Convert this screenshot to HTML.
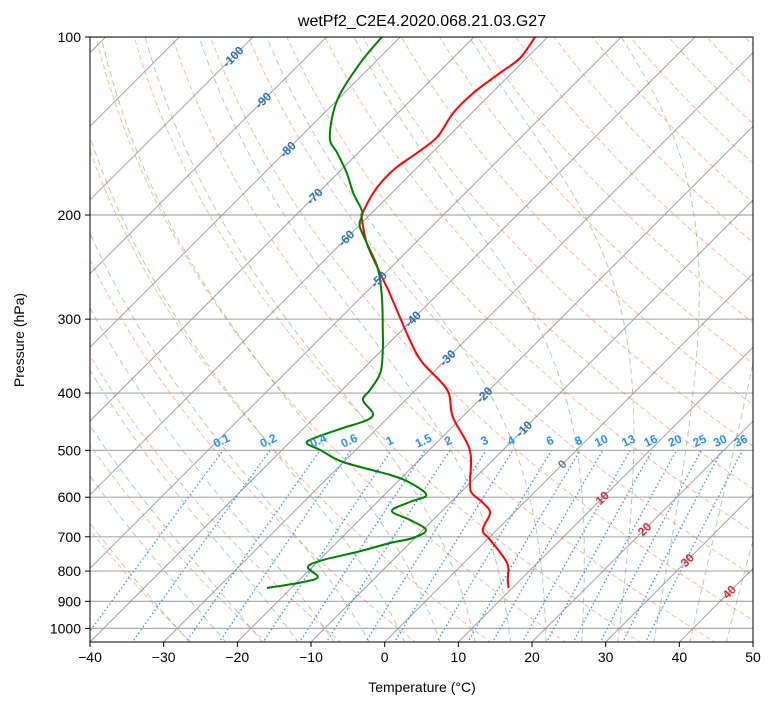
<!DOCTYPE html>
<html><head><meta charset="utf-8"><style>
html,body{margin:0;padding:0;background:#fff;}
svg{display:block;font-family:"Liberation Sans",sans-serif;}
</style></head><body>
<svg id="chart" width="775" height="708" viewBox="0 0 775 708">
<defs><clipPath id="clip"><rect x="90" y="37" width="663" height="605"/></clipPath></defs>
<rect x="0" y="0" width="775" height="708" fill="#fff"/>
<text x="422" y="26" font-size="16" text-anchor="middle">wetPf2_C2E4.2020.068.21.03.G27</text>
<g id="grid" clip-path="url(#clip)"></g>
<g id="labels"></g>
<rect x="90" y="37" width="663" height="605" fill="none" stroke="#000" stroke-width="1"/>
<g id="axes"></g>
<text x="422" y="692" font-size="14" text-anchor="middle">Temperature (°C)</text>
<text x="24" y="340" font-size="14" text-anchor="middle" transform="rotate(-90 24 340)">Pressure (hPa)</text>
</svg>
<script>
const tempP = [100,108.5,115.1,124.4,134.5,147.6,157.1,165.9,174.5,183.6,197.7,201.6,223.0,245.9,271.0,325.2,355.8,395.3,439.1,499.3,567.6,590.2,613.8,638.1,681.7,708.8,775.3,828.4,854.6];
const tempT = [-61.7,-60.9,-61.6,-62.5,-62.5,-61.4,-62,-62.8,-62.9,-62.5,-61.3,-60.8,-56.6,-51.7,-46.7,-37.6,-32.7,-25.7,-21.3,-14.5,-10.0,-8.4,-5.5,-3.2,-1.9,0.5,5.9,8.3,9.5];
const dewP = [100,110.7,127.8,147.6,157.1,169.8,183.6,197.7,208.0,223.0,245.9,275.2,313.0,338.2,370.0,395.3,411.0,432.3,444.3,458.3,474.7,485.9,499.3,523.1,550.3,567.6,595.0,611.4,633.1,655.7,681.7,703.3,717.2,742.8,766.3,787.5,818.7,834.8,854.6];
const dewT = [-82.5,-81.9,-80.0,-76.0,-72.8,-68.8,-65.2,-61.4,-60.0,-56.6,-51.7,-47.2,-42.6,-39.9,-37.1,-36.2,-35.8,-32.7,-32.5,-34.7,-37.0,-37.6,-34.8,-30.1,-21.9,-18.1,-14.3,-15.6,-16.8,-13.1,-9.6,-10.3,-12.7,-16.0,-19.5,-20.6,-17.9,-19.2,-23.3];
const xTicks = [-40,-30,-20,-10,0,10,20,30,40,50];
const pTicks = [100,200,300,400,500,600,700,800,900,1000];
const mixRatios = [0.1,0.2,0.4,0.6,1,1.5,2,3,4,6,8,10,13,16,20,25,30,36];
const dryT0 = [-30,-20,-10,0,10,20,30,40,50,60,70,80,90,100,110,120,130,140,150,160,170,180,190];
const moistT0 = [-30,-25,-20,-15,-10,-5,0,5,10,15,20,25,30,35,40,45];
const isoT = [-200,-190,-180,-170,-160,-150,-140,-130,-120,-110,-100,-90,-80,-70,-60,-50,-40,-30,-20,-10,0,10,20,30,40,50];
const isoLabels = [-100,-90,-80,-70,-60,-50,-40,-30,-20,-10,0,10,20,30,40];
const isoLabelP = [108,128,155,186,219,257,300,349,403,460,528,602,680,767,868];

const NS="http://www.w3.org/2000/svg";
const X0=90,Y0=37,YB=642,PX=7.367,DEC=591.4;
function yOf(p){return Y0+(Math.log10(p)-2)*DEC;}
function xOf(T,p){return X0+(T+40)*PX+(YB-yOf(p));}
function mk(tag,attrs,parent){const e=document.createElementNS(NS,tag);for(const k in attrs)e.setAttribute(k,attrs[k]);parent.appendChild(e);return e;}
const grid=document.getElementById('grid'),labels=document.getElementById('labels'),axes=document.getElementById('axes');
function pathFrom(ps,ts){return ps.map((p,i)=>(i?'L':'M')+xOf(ts[i],p).toFixed(1)+' '+yOf(p).toFixed(1)).join(' ');}
function smoothPath(ps,ts){const pts=ps.map((p,i)=>[xOf(ts[i],p),yOf(p)]);let d='M'+pts[0][0].toFixed(1)+' '+pts[0][1].toFixed(1);
 for(let i=0;i<pts.length-1;i++){const p0=pts[Math.max(0,i-1)],p1=pts[i],p2=pts[i+1],p3=pts[Math.min(pts.length-1,i+2)];
  const c1=[p1[0]+(p2[0]-p0[0])/6,p1[1]+(p2[1]-p0[1])/6],c2=[p2[0]-(p3[0]-p1[0])/6,p2[1]-(p3[1]-p1[1])/6];
  d+=' C'+c1[0].toFixed(1)+' '+c1[1].toFixed(1)+' '+c2[0].toFixed(1)+' '+c2[1].toFixed(1)+' '+p2[0].toFixed(1)+' '+p2[1].toFixed(1);}
 return d;}
const plev=[];for(let p=1060;p>=95;p-=5)plev.push(p);

dryT0.forEach(t0=>{const ts=plev.map(p=>(t0+273.15)*Math.pow(p/1000,0.2857)-273.15);
 const e=mk('path',{d:pathFrom(plev,ts),fill:'none',stroke:'rgba(250,120,90,0.55)','stroke-width':1,'stroke-dasharray':'5,3'},grid);
 });
function esat(T){return 6.112*Math.exp(17.67*T/(T+243.5));}
function moistLapse(T,p){const Tk=T+273.15,es=esat(T),rs=0.622*es/(p-es);const Rd=287.04,Cp=1005.7,L=2.501e6,eps=0.622;
 const num=(Rd*Tk+L*rs)/p;const den=Cp+(L*L*rs*eps)/(Rd*Tk*Tk);return num/den;}
moistT0.forEach(t0=>{const ps=[],ts=[];
 let T=t0;const up=[];for(let q=1000;q>=95;q-=5){up.push([q,T]);T-=moistLapse(T,q)*5;}
 T=t0;const dn=[];for(let q=1000;q<=1060;q+=5){dn.push([q,T]);T+=moistLapse(T,q)*5;}
 dn.reverse().concat(up.slice(1)).forEach(a=>{ps.push(a[0]);ts.push(a[1]);});
 const e=mk('path',{d:pathFrom(ps,ts),fill:'none',stroke:'rgba(60,160,60,0.45)','stroke-width':1,'stroke-dasharray':'6,4'},grid);
 });
isoT.forEach(t=>{const e=mk('line',{x1:xOf(t,1060),y1:yOf(1060),x2:xOf(t,95),y2:yOf(95),stroke:'rgba(120,120,120,0.7)','stroke-width':1},grid);
 });
pTicks.forEach(p=>{const e=mk('line',{x1:X0,y1:yOf(p),x2:753,y2:yOf(p),stroke:'rgba(150,150,150,0.8)','stroke-width':1.2},grid);
 });
function tdOf(w,p){const e=w/1000*p/(0.622+w/1000);const l=Math.log(e/6.112);return 243.5*l/(17.67-l);}
mixRatios.forEach(w=>{const ps=[],ts=[];for(let p=1060;p>=500;p-=10){ps.push(p);ts.push(tdOf(w,p));}
 const e=mk('path',{d:pathFrom(ps,ts),fill:'none',stroke:'#3b8df0','stroke-width':1.3,'stroke-dasharray':'1.5,2.5'},grid);
 
 const lx=xOf(tdOf(w,500),500),ly=yOf(500)-6;
 const t=mk('text',{x:lx,y:ly,'font-size':12,'font-weight':'bold',fill:'#2b8ff0','text-anchor':'middle',transform:`rotate(-25 ${lx} ${ly})`},labels);
 t.textContent=String(w);});
isoLabels.forEach((t,i)=>{const p=isoLabelP[i];const lx=xOf(t,p),ly=yOf(p)+4;
 const col=t<0?'#2a6fb0':(t===0?'#777':'#d03030');
 const e=mk('text',{x:lx,y:ly,'font-size':12,'font-weight':'bold',fill:col,'text-anchor':'middle',transform:`rotate(-45 ${lx} ${ly-4})`},labels);
 e.textContent=String(t);});
const tl=mk('path',{d:smoothPath(tempP,tempT),fill:'none',stroke:'#ff0000','stroke-width':2,'stroke-linejoin':'round'},grid);

const dl=mk('path',{d:smoothPath(dewP,dewT),fill:'none',stroke:'#008000','stroke-width':2,'stroke-linejoin':'round'},grid);

xTicks.forEach(t=>{const x=X0+(t+40)*PX;mk('line',{x1:x,y1:YB,x2:x,y2:YB+5,stroke:'#000'},axes);
 const e=mk('text',{x:x,y:YB+20,'font-size':14,'text-anchor':'middle'},axes);e.textContent=t<0?'\u2212'+(-t):String(t);
 });
pTicks.forEach(p=>{const y=yOf(p);mk('line',{x1:X0-5,y1:y,x2:X0,y2:y,stroke:'#000'},axes);
 const e=mk('text',{x:X0-9,y:y+5,'font-size':14,'text-anchor':'end'},axes);e.textContent=String(p);
 });
</script>
</body></html>
